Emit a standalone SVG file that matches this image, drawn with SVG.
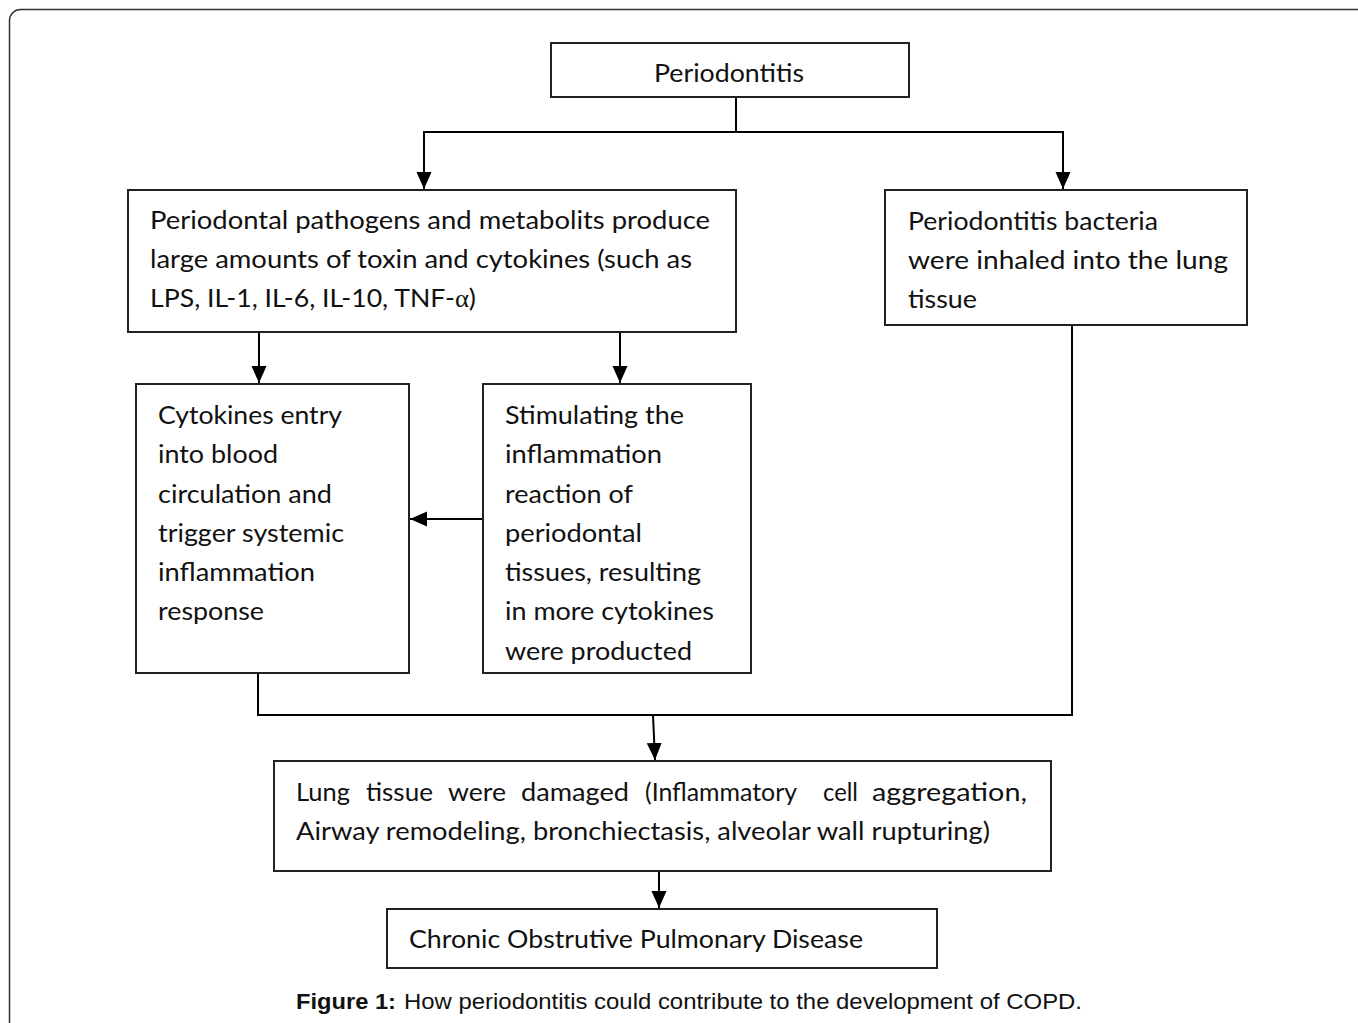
<svg xmlns="http://www.w3.org/2000/svg" width="1358" height="1023" viewBox="0 0 1358 1023">
<defs>
<marker id="ah" markerUnits="userSpaceOnUse" markerWidth="18" markerHeight="18" viewBox="0 0 18 18" refX="17" refY="9" orient="auto">
<path d="M0,1.5 L17,9 L0,16.5 Z" fill="#000"/>
</marker>
<style>
.box{fill:#fff;stroke:#222;stroke-width:2}
.t{font-family:Lato,"Open Sans","Liberation Sans",sans-serif;font-size:25px;fill:#111}
.g{font-family:"Liberation Serif",serif}
.c{fill:none;stroke:#000;stroke-width:2}
.a{fill:none;stroke:#000;stroke-width:2;marker-end:url(#ah)}
.cap{font-family:"Liberation Sans",Arial,sans-serif;font-size:22px;fill:#111}
</style>
</defs>
<rect x="9.5" y="9.5" width="1400" height="1100" rx="11" fill="#fff" stroke="#333" stroke-width="1.5"/>

<g id="connectors">
<path class="c" d="M736,97 V132"/>
<path class="a" d="M736,132 H424 V189"/>
<path class="a" d="M736,132 H1063 V189"/>
<path class="a" d="M259,332 V383"/>
<path class="a" d="M620,332 V383"/>
<path class="a" d="M483,519 H410"/>
<path class="c" d="M258,673 V715 H1072 V325"/>
<path class="a" d="M653,715 L655,760"/>
<path class="a" d="M659,871 V908"/>
</g>

<g id="n-periodontitis">
<rect class="box" x="551" y="43" width="358" height="54"/>
<text class="t" x="654" y="82" textLength="150" lengthAdjust="spacingAndGlyphs">Periodontitis</text>
</g>

<g id="n-pathogens">
<rect class="box" x="128" y="190" width="608" height="142"/>
<text class="t" x="150" y="229" textLength="560" lengthAdjust="spacingAndGlyphs">Periodontal pathogens and metabolits produce</text>
<text class="t" x="150" y="268" textLength="542" lengthAdjust="spacingAndGlyphs">large amounts of toxin and cytokines (such as</text>
<text class="t" x="150" y="307" textLength="326" lengthAdjust="spacingAndGlyphs">LPS, IL-1, IL-6, IL-10, TNF-<tspan class="g">α</tspan>)</text>
</g>

<g id="n-bacteria">
<rect class="box" x="885" y="190" width="362" height="135"/>
<text class="t" x="908" y="230" textLength="250" lengthAdjust="spacingAndGlyphs">Periodontitis bacteria</text>
<text class="t" x="908" y="269" textLength="320" lengthAdjust="spacingAndGlyphs">were inhaled into the lung</text>
<text class="t" x="908" y="308" textLength="69" lengthAdjust="spacingAndGlyphs">tissue</text>
</g>

<g id="n-cytokines">
<rect class="box" x="136" y="384" width="273" height="289"/>
<text class="t" x="158" y="424" textLength="184" lengthAdjust="spacingAndGlyphs">Cytokines entry</text>
<text class="t" x="158" y="463" textLength="120" lengthAdjust="spacingAndGlyphs">into blood</text>
<text class="t" x="158" y="503" textLength="174" lengthAdjust="spacingAndGlyphs">circulation and</text>
<text class="t" x="158" y="542" textLength="186" lengthAdjust="spacingAndGlyphs">trigger systemic</text>
<text class="t" x="158" y="581" textLength="157" lengthAdjust="spacingAndGlyphs">inflammation</text>
<text class="t" x="158" y="620" textLength="106" lengthAdjust="spacingAndGlyphs">response</text>
</g>

<g id="n-stimulating">
<rect class="box" x="483" y="384" width="268" height="289"/>
<text class="t" x="505" y="424" textLength="179" lengthAdjust="spacingAndGlyphs">Stimulating the</text>
<text class="t" x="505" y="463" textLength="157" lengthAdjust="spacingAndGlyphs">inflammation</text>
<text class="t" x="505" y="503" textLength="128" lengthAdjust="spacingAndGlyphs">reaction of</text>
<text class="t" x="505" y="542" textLength="137" lengthAdjust="spacingAndGlyphs">periodontal</text>
<text class="t" x="505" y="581" textLength="196" lengthAdjust="spacingAndGlyphs">tissues, resulting</text>
<text class="t" x="505" y="620" textLength="209" lengthAdjust="spacingAndGlyphs">in more cytokines</text>
<text class="t" x="505" y="660" textLength="187" lengthAdjust="spacingAndGlyphs">were producted</text>
</g>

<g id="n-lung">
<rect class="box" x="274" y="761" width="777" height="110"/>
<text class="t" x="296" y="801" textLength="54" lengthAdjust="spacingAndGlyphs">Lung</text>
<text class="t" x="366" y="801" textLength="67" lengthAdjust="spacingAndGlyphs">tissue</text>
<text class="t" x="448" y="801" textLength="58" lengthAdjust="spacingAndGlyphs">were</text>
<text class="t" x="521" y="801" textLength="108" lengthAdjust="spacingAndGlyphs">damaged</text>
<text class="t" x="645" y="801" textLength="152" lengthAdjust="spacingAndGlyphs">(Inflammatory</text>
<text class="t" x="823" y="801" textLength="35" lengthAdjust="spacingAndGlyphs">cell</text>
<text class="t" x="872" y="801" textLength="155" lengthAdjust="spacingAndGlyphs">aggregation,</text>
<text class="t" x="296" y="840" textLength="694" lengthAdjust="spacingAndGlyphs">Airway remodeling, bronchiectasis, alveolar wall rupturing)</text>
</g>

<g id="n-copd">
<rect class="box" x="387" y="909" width="550" height="59"/>
<text class="t" x="409" y="948" textLength="454" lengthAdjust="spacingAndGlyphs">Chronic Obstrutive Pulmonary Disease</text>
</g>

<g id="caption">
<text class="cap" x="296" y="1009" font-weight="bold" textLength="100" lengthAdjust="spacingAndGlyphs">Figure 1:</text>
<text class="cap" x="404" y="1009" textLength="678" lengthAdjust="spacingAndGlyphs">How periodontitis could contribute to the development of COPD.</text>
</g>
</svg>
